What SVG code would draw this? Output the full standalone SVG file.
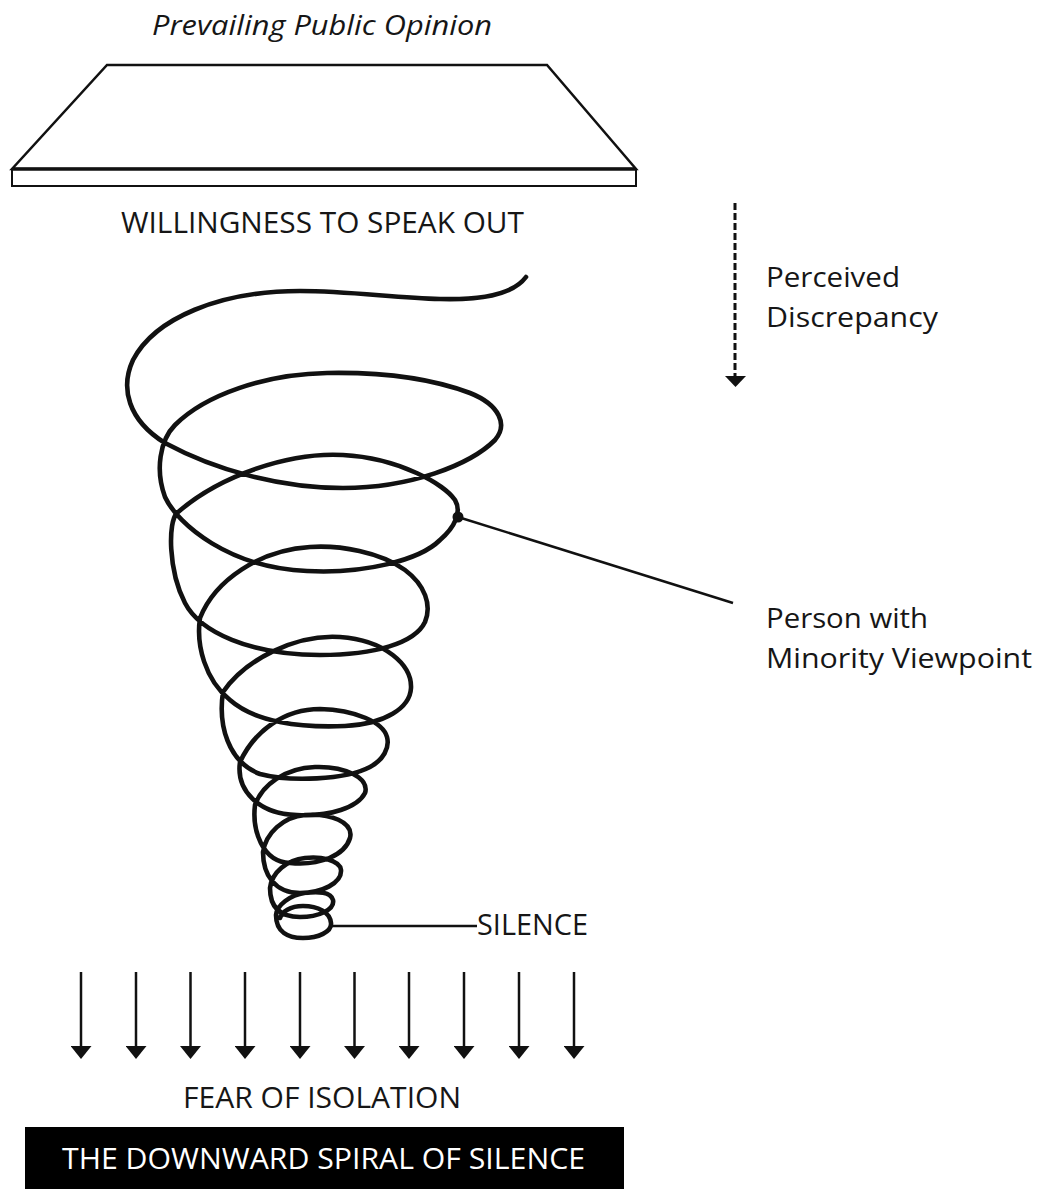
<svg xmlns="http://www.w3.org/2000/svg" width="1048" height="1189" viewBox="0 0 1048 1189">
  <style>
    .lbl { font-family: "Open Sans", "Noto Sans", "Liberation Sans", sans-serif; fill: #161616; }
    .line { stroke: #111; fill: none; }
  </style>
  <defs>
    <!-- solid triangular head, drawn along +x so orient="auto" points it down the shaft -->
    <marker id="head" viewBox="0 0 13 21" refX="1" refY="10.5" markerWidth="13" markerHeight="21" markerUnits="userSpaceOnUse" orient="auto">
      <path d="M0,0 L13,10.5 L0,21 Z" fill="#111"/>
    </marker>
  </defs>
  <rect width="1048" height="1189" fill="#fff"/>

  <!-- title above the plate -->
  <g id="title">
    <text class="lbl" x="322" y="35" font-size="27" font-style="italic" text-anchor="middle" textLength="340" lengthAdjust="spacingAndGlyphs">Prevailing Public Opinion</text>
  </g>

  <!-- the plate of public opinion -->
  <g id="plate">
    <polygon points="107,65 547,65 636,169 12,169" fill="#fff" stroke="#111" stroke-width="2.5" stroke-linejoin="miter"/>
    <rect x="12" y="169" width="624" height="17" fill="#fff" stroke="#111" stroke-width="2"/>
    <line x1="12" y1="169" x2="636" y2="169" stroke="#111" stroke-width="3.5"/>
  </g>

  <g id="willingness">
    <text class="lbl" x="322.5" y="233" font-size="30" text-anchor="middle" textLength="403" lengthAdjust="spacingAndGlyphs">WILLINGNESS TO SPEAK OUT</text>
  </g>

  <!-- the descending spiral -->
  <g id="spiral">
    <path class="line" stroke-width="4.6" stroke-linecap="round" stroke-linejoin="round" d="M526,277
      C512,296 478,300 440,299
      C395,298 350,291 300,291
      C220,291 155,318 133,360
      C120,388 128,420 165,443
      C215,470 280,488 343,488
      C410,488 470,465 495,440
      C508,425 500,405 470,393
      C430,378 380,372 327,373
      C265,374 205,395 175,425
      C160,440 155,470 165,497
      C178,525 230,568 307,571
      C365,574 420,560 440,540
      C455,527 462,512 455,500
      C445,485 400,458 343,455
      C290,452 220,475 177,513
      C168,522 168,570 185,603
      C200,632 250,655 320,655
      C375,655 415,643 425,622
      C432,605 425,585 405,570
      C380,552 340,545 310,547
      C260,550 215,580 200,618
      C196,645 205,680 230,700
      C255,722 300,728 345,726
      C385,724 410,708 411,688
      C412,665 385,640 340,637
      C295,634 245,660 223,692
      C218,725 228,762 260,774
      C290,782 345,780 370,767
      C383,760 390,748 387,737
      C383,722 355,710 320,709
      C285,709 255,730 240,762
      C236,790 258,814 297,815
      C330,817 358,807 365,793
      C370,778 345,766 315,767
      C285,768 262,785 255,805
      C252,830 262,862 290,863
      C320,866 345,855 350,838
      C354,822 330,813 305,815
      C283,817 266,833 263,852
      C263,875 275,893 300,893
      C322,893 342,883 341,870
      C340,860 320,856 305,858
      C287,860 272,872 270,888
      C270,907 280,917 300,917
      C318,917 335,910 333,900
      C331,892 318,891 305,893
      C290,895 277,905 276,915
      C276,932 288,938 303,938
      C318,938 332,932 331,923
      C330,912 318,906 303,906
      C290,906 282,912 280,918"/>
    <circle cx="458" cy="517" r="5.5" fill="#111"/>
  </g>

  <g id="discrepancy">
    <text class="lbl" x="766" y="287" font-size="28" textLength="134" lengthAdjust="spacingAndGlyphs">Perceived</text>
    <text class="lbl" x="766" y="327" font-size="28" textLength="172" lengthAdjust="spacingAndGlyphs">Discrepancy</text>
  </g>

  <g id="minority">
    <text class="lbl" x="766" y="628" font-size="28" textLength="162" lengthAdjust="spacingAndGlyphs">Person with</text>
    <text class="lbl" x="766" y="668" font-size="28" textLength="266" lengthAdjust="spacingAndGlyphs">Minority Viewpoint</text>
  </g>

  <g id="silence">
    <text class="lbl" x="477" y="935" font-size="29" textLength="111" lengthAdjust="spacingAndGlyphs">SILENCE</text>
  </g>

  <g id="fear">
    <text class="lbl" x="322" y="1108" font-size="29" text-anchor="middle" textLength="278" lengthAdjust="spacingAndGlyphs">FEAR OF ISOLATION</text>
  </g>

  <g id="banner">
    <rect x="25" y="1127" width="599" height="62" fill="#000"/>
    <text x="323.5" y="1169" font-size="30" text-anchor="middle" fill="#fff" font-family="Open Sans, Noto Sans, Liberation Sans, sans-serif" textLength="523" lengthAdjust="spacingAndGlyphs">THE DOWNWARD SPIRAL OF SILENCE</text>
  </g>

  <!-- connectors -->
  <g id="connectors">
    <line class="line" x1="735" y1="203" x2="735" y2="377" stroke-width="3" stroke-dasharray="7 3"/>
    <polygon points="725,376 746,376 735.5,387" fill="#111"/>
    <line class="line" x1="458" y1="517" x2="733" y2="603" stroke-width="2.5"/>
    <line class="line" x1="331" y1="926" x2="477" y2="926" stroke-width="2.5"/>
    <g stroke="#111" stroke-width="2.5">
      <line x1="81" y1="972" x2="81" y2="1047" marker-end="url(#head)"/>
      <line x1="136" y1="972" x2="136" y2="1047" marker-end="url(#head)"/>
      <line x1="190.5" y1="972" x2="190.5" y2="1047" marker-end="url(#head)"/>
      <line x1="245" y1="972" x2="245" y2="1047" marker-end="url(#head)"/>
      <line x1="300" y1="972" x2="300" y2="1047" marker-end="url(#head)"/>
      <line x1="354.5" y1="972" x2="354.5" y2="1047" marker-end="url(#head)"/>
      <line x1="409" y1="972" x2="409" y2="1047" marker-end="url(#head)"/>
      <line x1="464" y1="972" x2="464" y2="1047" marker-end="url(#head)"/>
      <line x1="519" y1="972" x2="519" y2="1047" marker-end="url(#head)"/>
      <line x1="574" y1="972" x2="574" y2="1047" marker-end="url(#head)"/>
    </g>
  </g>
</svg>
